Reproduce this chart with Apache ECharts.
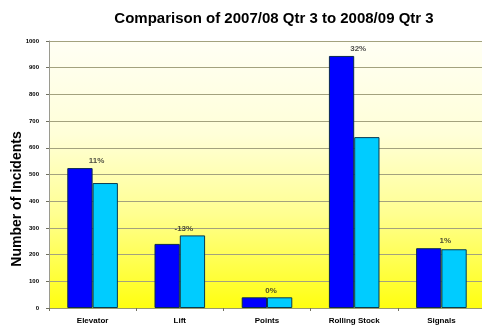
<!DOCTYPE html>
<html>
<head>
<meta charset="utf-8">
<script src="https://cdn.jsdelivr.net/npm/echarts@6/dist/echarts.min.js"></script>
<style>
  html, body { margin: 0; padding: 0; background: #ffffff; }
  #chart { width: 482px; height: 331px; }
</style>
</head>
<body>
<div id="chart"></div>
<script>
// Incident counts by asset type, 2007/08 Q3 vs 2008/09 Q3
var categories = ['Elevator', 'Lift', 'Points', 'Rolling Stock', 'Signals'];
var qtr3_0708 = [524, 240, 40, 944, 224];
var qtr3_0809 = [468, 272, 40, 640, 220];
var changeLabels = ['11%', '-13%', '0%', '32%', '1%'];
var yTicks = [0, 100, 200, 300, 400, 500, 600, 700, 800, 900, 1000];

// Anchor each change label above the taller bar of its pair
var labelAnchors = categories.map(function (c, i) {
  return { value: Math.max(qtr3_0708[i], qtr3_0809[i]), text: changeLabels[i] };
});

var font = '"Liberation Sans", Arial, sans-serif';
var chart = echarts.init(document.getElementById('chart'), null, { renderer: 'canvas' });

chart.setOption({
  animation: false,
  backgroundColor: '#ffffff',
  title: {
    text: 'Comparison of 2007/08 Qtr 3 to 2008/09 Qtr 3',
    left: 269,
    textAlign: 'center',
    top: 6,
    textStyle: { fontFamily: font, fontSize: 15, fontWeight: 'bold', color: '#000000' }
  },
  graphic: [{
    type: 'text',
    x: 17,
    y: 199,
    rotation: Math.PI / 2,
    style: {
      text: 'Number of Incidents',
      font: 'bold 14px ' + font,
      fill: '#000000',
      align: 'center',
      verticalAlign: 'middle'
    }
  }],
  grid: {
    left: 49, right: -3, top: 41, bottom: 23,
    outerBoundsMode: 'none',
    containLabel: false,
    show: true,
    borderWidth: 0,
    backgroundColor: new echarts.graphic.LinearGradient(0, 0, 0, 1, [
      { offset: 0, color: '#fffff4' },
      { offset: 0.35, color: '#ffffd8' },
      { offset: 0.65, color: '#ffff90' },
      { offset: 1, color: '#ffff10' }
    ])
  },
  xAxis: {
    type: 'category',
    data: categories,
    axisLine: { show: true, lineStyle: { color: '#9a9a70', width: 1 } },
    axisTick: { show: true, length: 3, lineStyle: { color: '#707060' } },
    axisLabel: {
      fontFamily: font, fontSize: 8, fontWeight: 'bold', color: '#000000', margin: 9
    }
  },
  yAxis: {
    type: 'value',
    min: yTicks[0],
    max: yTicks[yTicks.length - 1],
    interval: yTicks[1] - yTicks[0],
    axisLine: { show: true, lineStyle: { color: '#9a9a90', width: 1 } },
    axisTick: { show: true, length: 3, lineStyle: { color: '#707060' } },
    axisLabel: {
      fontFamily: font, fontSize: 6, fontWeight: 'bold', color: '#000000', margin: 10,
      formatter: function (v) { return String(v); }
    },
    splitLine: { show: true, lineStyle: { color: '#a3a27e', width: 1 } }
  },
  series: [
    {
      name: '2007/08 Qtr 3',
      type: 'bar',
      data: qtr3_0708,
      barGap: '0%',
      barCategoryGap: '42%',
      itemStyle: { color: '#0000ff', borderColor: '#0a2a50', borderWidth: 1 }
    },
    {
      name: '2008/09 Qtr 3',
      type: 'bar',
      data: qtr3_0809,
      itemStyle: { color: '#00ccff', borderColor: '#0a3a50', borderWidth: 1 }
    },
    {
      name: 'Change',
      type: 'scatter',
      data: labelAnchors.map(function (d) { return { value: d.value, text: d.text }; }),
      symbolSize: 0,
      silent: true,
      label: {
        show: true,
        position: 'top',
        distance: 3,
        offset: [4, 0],
        formatter: function (p) { return p.data.text; },
        fontFamily: font, fontSize: 8, fontWeight: 'bold', color: '#222222'
      }
    }
  ]
});
</script>
</body>
</html>
